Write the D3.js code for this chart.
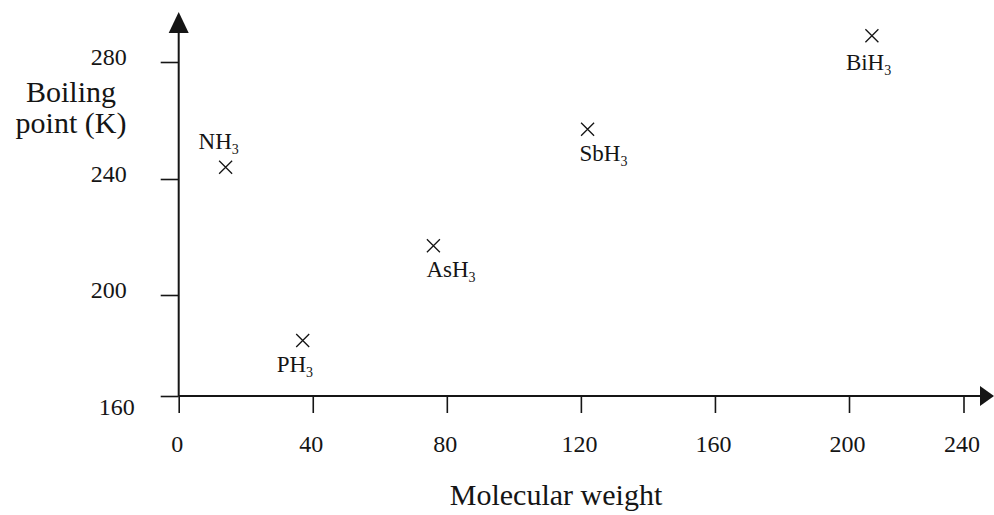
<!DOCTYPE html>
<html>
<head>
    <meta charset="utf-8">
    <script src="https://d3js.org/d3.v7.min.js"></script>
    <title>Boiling points of group 15 hydrides</title>
    <style>
        body {
            margin: 0px;
            background-color: #ffffff;
        }
        text {
            font-family: "Liberation Serif", "Times New Roman", serif;
            fill: #151515;
        }
        .tick line {
            stroke: #151515;
            stroke-width: 1.6;
        }
        .tick text {
            font-size: 24px;
        }
        .axis-label {
            font-size: 30px;
        }
        .point-label {
            font-size: 23px;
        }
        .axis-line {
            stroke: #151515;
            stroke-width: 2;
        }
    </style>
</head>
<body>
<svg width="994" height="515"></svg>
<script>
    // values
    const compounds = ['NH', 'PH', 'AsH', 'SbH', 'BiH'];
    const molWeight = [14, 37, 76, 122, 208];
    const boilingPoint = [244, 182, 217, 257, 289];
    const xTicks = [0, 40, 80, 120, 160, 200, 240];
    const yTicks = [160, 200, 240, 280];

    // label placement relative to each cross (start x, baseline y)
    const labelOffsets = [[-27, -18], [-26, 32], [-7, 31], [-8, 32], [-26, 34]];

    const svg = d3.select('svg');
    const g = svg.append('g');

    // the printed axis is a little squashed at its far ends
    const xScale = d3.scaleLinear()
        .domain([0, 200, 240])
        .range([178.7, 849, 963.5]);
    const yScale = d3.scaleLinear()
        .domain([160, 200, 240, 280])
        .range([396, 295, 179, 62]);

    const xAxis = d3.axisBottom(xScale)
        .tickValues(xTicks)
        .tickSize(17)
        .tickSizeOuter(0)
        .tickPadding(22);
    const yAxis = d3.axisLeft(yScale)
        .tickValues(yTicks)
        .tickSize(18)
        .tickSizeOuter(0)
        .tickPadding(34);

    const xAxisG = g.append('g')
        .attr('transform', `translate(0,${yScale(160)})`)
        .call(xAxis);
    const yAxisG = g.append('g')
        .attr('transform', `translate(${xScale(0)},0)`)
        .call(yAxis);
    xAxisG.select('.domain').remove();
    yAxisG.select('.domain').remove();
    xAxisG.selectAll('.tick text').attr('dx', -2);
    yAxisG.selectAll('.tick text').attr('dy', '0.12em');
    yAxisG.selectAll('.tick text')
        .filter(d => d === 160)
        .attr('dx', 8)
        .attr('dy', '0.75em');

    // main axis lines with arrow heads
    const x0 = xScale(0), y0 = yScale(160);
    g.append('line').attr('class', 'axis-line')
        .attr('x1', x0).attr('y1', y0).attr('x2', 981).attr('y2', y0);
    g.append('line').attr('class', 'axis-line')
        .attr('x1', x0).attr('y1', y0).attr('x2', x0).attr('y2', 32);
    g.append('path')
        .attr('fill', '#151515')
        .attr('d', `M${x0},12 L${x0 + 10},33 L${x0 - 10},33 Z`);
    g.append('path')
        .attr('fill', '#151515')
        .attr('d', `M994,${y0} L980,${y0 - 10} L980,${y0 + 10} Z`);

    // axis titles
    g.append('text')
        .attr('class', 'axis-label')
        .attr('x', 71)
        .attr('y', 102)
        .attr('text-anchor', 'middle')
        .text('Boiling');
    g.append('text')
        .attr('class', 'axis-label')
        .attr('x', 71)
        .attr('y', 133)
        .attr('text-anchor', 'middle')
        .text('point (K)');
    g.append('text')
        .attr('class', 'axis-label')
        .attr('x', 556)
        .attr('y', 505)
        .attr('text-anchor', 'middle')
        .text('Molecular weight');

    const data = compounds.map((c, i) => ({
        name: c,
        mw: molWeight[i],
        bp: boilingPoint[i],
        off: labelOffsets[i]
    }));

    const cross = d3.symbol().type(d3.symbolX).size(112);
    g.selectAll('.point')
        .data(data)
        .enter().append('path')
        .attr('class', 'point')
        .attr('d', cross)
        .attr('fill', 'none')
        .attr('stroke', '#151515')
        .attr('stroke-width', 1.3)
        .attr('transform', d => `translate(${xScale(d.mw)},${yScale(d.bp)})`);

    const labels = g.selectAll('.point-label')
        .data(data)
        .enter().append('text')
        .attr('class', 'point-label')
        .attr('x', d => xScale(d.mw) + d.off[0])
        .attr('y', d => yScale(d.bp) + d.off[1]);
    labels.append('tspan').text(d => d.name);
    labels.append('tspan')
        .attr('font-size', '14px')
        .attr('dy', 5)
        .text('3');
</script>
</body>
</html>
